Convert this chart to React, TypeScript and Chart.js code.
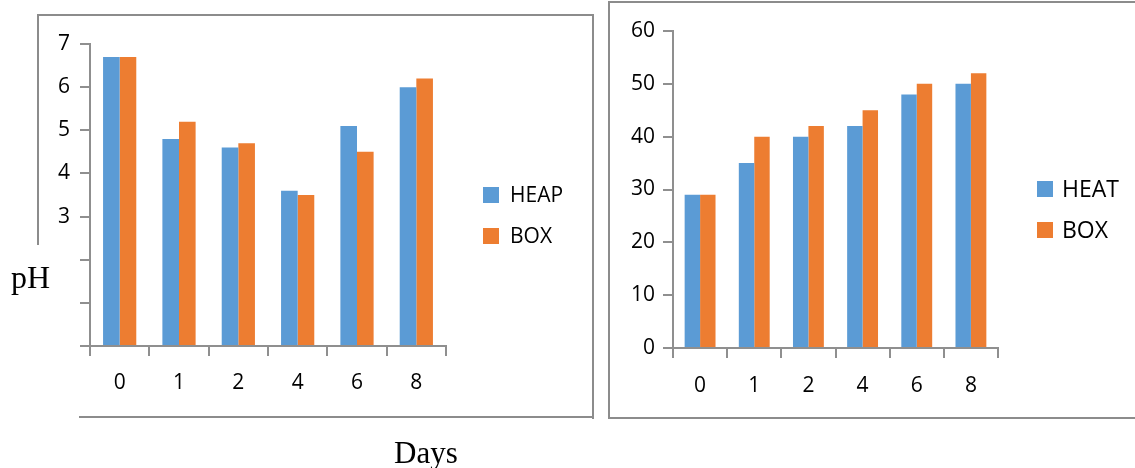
import React, { useEffect, useRef } from "react";
import { Chart, registerables } from "chart.js";

Chart.register(...registerables);

// ---------- data ----------
const days = ["0", "1", "2", "4", "6", "8"];
const phHeap = [6.7, 4.8, 4.6, 3.6, 5.1, 6.0];
const phBox = [6.7, 5.2, 4.7, 3.5, 4.5, 6.2];
const phTickLabels = ["", "", "", "3", "4", "5", "6", "7"];
const tempHeat = [29, 35, 40, 42, 48, 50];
const tempBox = [29, 40, 42, 45, 50, 52];
const tempTickLabels = ["0", "10", "20", "30", "40", "50", "60"];

const BLUE = "#5B9BD5";
const ORANGE = "#ED7D31";
const AXIS = "#8f8f8f";
const FRAME = "#8c8c8c";
const FONT = '"Open Sans", "DejaVu Sans", sans-serif';

const sideLegend = {
  id: "sideLegend",
  afterDraw(chart: any, _args: any, opts: any) {
    if (!opts || opts.x === undefined) return;
    const ctx = chart.ctx;
    ctx.save();
    ctx.font = `${opts.fontSize}px ${FONT}`;
    ctx.textBaseline = "middle";
    ctx.textAlign = "left";
    chart.data.datasets.forEach((ds: any, i: number) => {
      const y = opts.y + i * opts.step;
      ctx.fillStyle = ds.backgroundColor;
      ctx.fillRect(opts.x, y, opts.box, opts.box);
      ctx.fillStyle = "#000";
      ctx.fillText(ds.label, opts.x + opts.box + opts.gap, y + opts.box / 2 + 1);
    });
    ctx.restore();
  },
};

type P = {
  width: number;
  a: number[];
  b: number[];
  labelA: string;
  labelB: string;
  yMax: number;
  step: number;
  tickLabels: string[];
  top: number;
  right: number;
  yWidth: number;
  xHeight: number;
  xPad: number;
  yPad: number;
  catPct: number;
  fontSize: number;
  legend: any;
};

function makeConfig(p: P): any {
  const gridCommon = {
    drawOnChartArea: false,
    drawTicks: true,
    tickLength: 10,
    color: AXIS,
    lineWidth: 2,
  };
  return {
    type: "bar",
    data: {
      labels: days,
      datasets: [
        { label: p.labelA, data: p.a, backgroundColor: BLUE, borderWidth: 0 },
        { label: p.labelB, data: p.b, backgroundColor: ORANGE, borderWidth: 0 },
      ],
    },
    options: {
      responsive: false,
      animation: false,
      devicePixelRatio: 1,
      layout: { padding: { left: 0, top: p.top, right: p.right, bottom: 0 } },
      datasets: { bar: { categoryPercentage: p.catPct, barPercentage: 1 } },
      plugins: {
        legend: { display: false },
        tooltip: { enabled: false },
        sideLegend: p.legend,
      },
      scales: {
        x: {
          grid: { ...gridCommon, offset: true },
          border: { color: AXIS, width: 2 },
          ticks: { font: { family: FONT, size: p.fontSize }, color: "#000", padding: p.xPad },
          afterFit: (s: any) => {
            s.height = p.xHeight;
          },
        },
        y: {
          min: 0,
          max: p.yMax,
          grid: gridCommon,
          border: { color: AXIS, width: 2 },
          ticks: {
            stepSize: p.step,
            padding: p.yPad,
            font: { family: FONT, size: p.fontSize },
            color: "#000",
            callback: (_v: any, i: number) => p.tickLabels[i],
          },
          afterFit: (s: any) => {
            s.width = p.yWidth;
          },
        },
      },
    },
    plugins: [sideLegend],
  };
}

function BarChart({ p, left }: { p: P; left: number }) {
  const ref = useRef<HTMLCanvasElement | null>(null);
  useEffect(() => {
    if (!ref.current) return;
    const chart = new Chart(ref.current, makeConfig(p));
    return () => chart.destroy();
  }, []);
  return (
    <canvas
      ref={ref}
      width={p.width}
      height={468}
      style={{ position: "absolute", left, top: 0, width: p.width, height: 468 }}
    />
  );
}

const line = (l: number, t: number, w: number, h: number) => (
  <div style={{ position: "absolute", left: l, top: t, width: w, height: h, background: FRAME }} />
);

export default function App() {
  const phP: P = {
    width: 600,
    a: phHeap,
    b: phBox,
    labelA: "HEAP",
    labelB: "BOX",
    yMax: 7,
    step: 1,
    tickLabels: phTickLabels,
    top: 44,
    right: 154,
    yWidth: 90,
    xHeight: 122,
    xPad: 14,
    yPad: 10,
    catPct: 0.56,
    fontSize: 21,
    legend: { x: 483, y: 187, box: 16, gap: 11, step: 41, fontSize: 21 },
  };
  const tP: P = {
    width: 535,
    a: tempHeat,
    b: tempBox,
    labelA: "HEAT",
    labelB: "BOX",
    yMax: 60,
    step: 10,
    tickLabels: tempTickLabels,
    top: 31,
    right: 137,
    yWidth: 73,
    xHeight: 120,
    xPad: 15,
    yPad: 8,
    catPct: 0.57,
    fontSize: 21,
    legend: { x: 437, y: 181, box: 16, gap: 9, step: 41, fontSize: 23 },
  };
  return (
    <div
      style={{
        position: "absolute",
        left: 0,
        top: 0,
        width: 1135,
        height: 468,
        overflow: "hidden",
        background: "#fff",
      }}
    >
      {/* left frame */}
      {line(37, 14, 557, 2)}
      {line(37, 14, 2, 231)}
      {line(592, 14, 2, 405)}
      {line(79, 416, 515, 2)}
      {/* right frame */}
      {line(608, 1, 527, 2)}
      {line(608, 1, 2, 418)}
      {line(608, 417, 527, 2)}
      <BarChart p={phP} left={0} />
      <BarChart p={tP} left={600} />
      <div
        style={{
          position: "absolute",
          left: 11,
          top: 261,
          fontFamily: '"Liberation Serif", "Times New Roman", serif',
          fontSize: 32,
          lineHeight: "32px",
          color: "#000",
          whiteSpace: "nowrap",
        }}
      >
        pH
      </div>
      <div
        style={{
          position: "absolute",
          left: 394,
          top: 437,
          fontFamily: '"Liberation Serif", "Times New Roman", serif',
          fontSize: 31,
          lineHeight: "31px",
          color: "#000",
          whiteSpace: "nowrap",
        }}
      >
        Days
      </div>
    </div>
  );
}
